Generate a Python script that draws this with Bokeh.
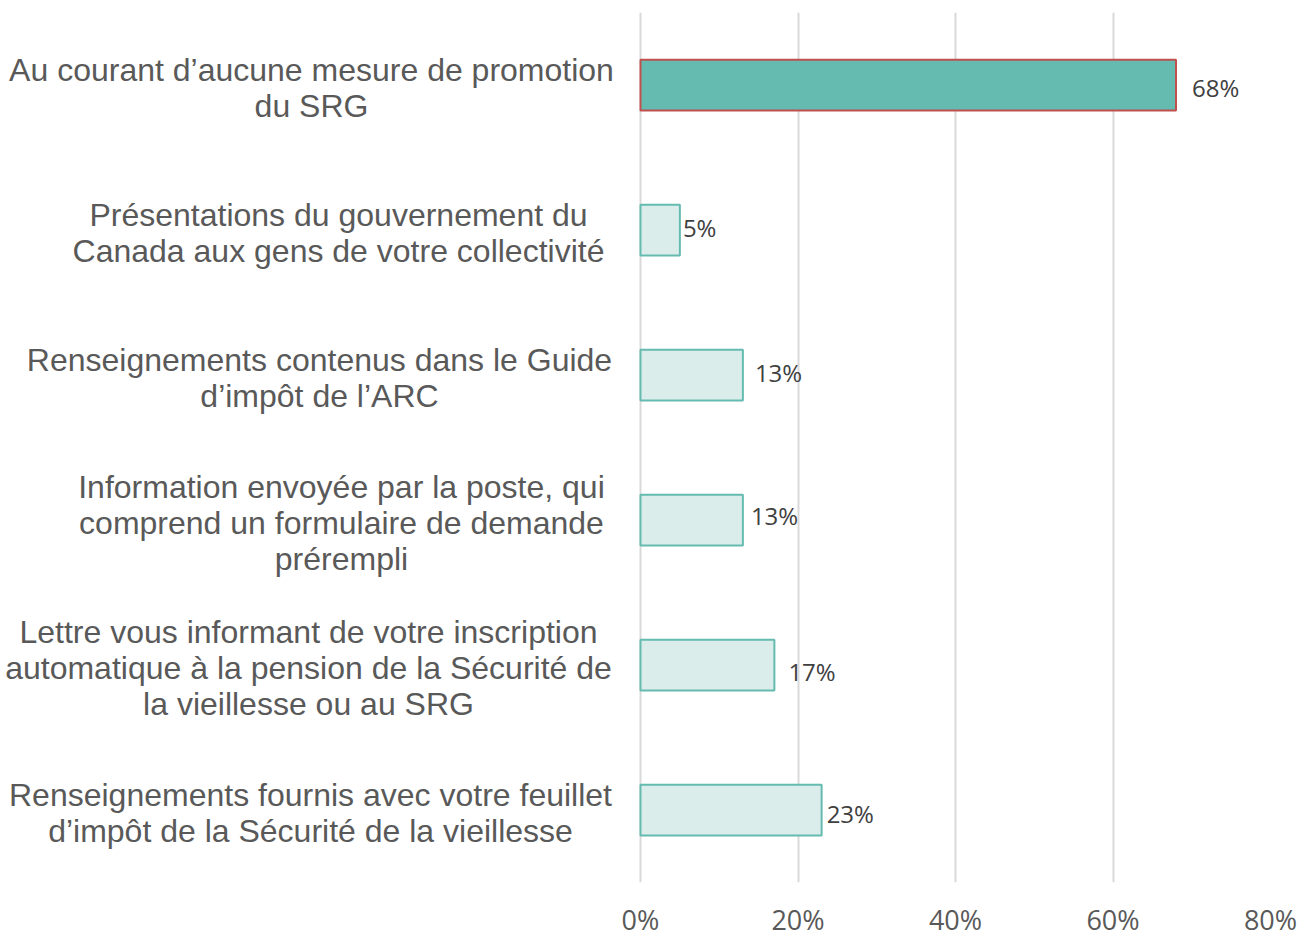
from bokeh.plotting import figure
from bokeh.models import ColumnDataSource, FixedTicker, NumeralTickFormatter
from bokeh.embed import file_html
from bokeh.resources import INLINE
from bokeh.core.properties import value

# ---- data ----
categories = [
    "Au courant d\u2019aucune mesure de promotion\ndu SRG",
    "Pr\u00e9sentations du gouvernement du\nCanada aux gens de votre collectivit\u00e9",
    "Renseignements contenus dans le Guide\nd\u2019imp\u00f4t de l\u2019ARC",
    "Information envoy\u00e9e par la poste, qui\ncomprend un formulaire de demande\npr\u00e9rempli",
    "Lettre vous informant de votre inscription\nautomatique \u00e0 la pension de la S\u00e9curit\u00e9 de\nla vieillesse ou au SRG",
    "Renseignements fournis avec votre feuillet\nd\u2019imp\u00f4t de la S\u00e9curit\u00e9 de la vieillesse",
]
values = [68, 5, 13, 13, 17, 23]
value_labels = ["68%", "5%", "13%", "13%", "17%", "23%"]
x_ticks = [0, 20, 40, 60, 80]
highlight_index = 0

# ---- style / layout ----
TEAL = "#66BBB0"
LIGHT = "#DAEDEA"
RED = "#C0504D"
fills = [TEAL if i == highlight_index else LIGHT for i in range(len(values))]
lines = [RED if i == highlight_index else TEAL for i in range(len(values))]
label_dx = [16, 3, 12, 8, 14, 5]
label_dy = [2, -3, -3, -5, 6, 3]
# horizontal centres (px from left of page) of the category text blocks
cat_centers_px = [311, 338, 319, 341, 308, 310]

LABEL_AREA = 640   # px left of the zero line reserved for category text
PLOT_W = 630       # px between 0% and 80%
FRAME_TOP = 12
FRAME_H = 870
X_MAX = 80
px_per_unit = PLOT_W / X_MAX
x_start = -LABEL_AREA / px_per_unit

p = figure(
    y_range=list(reversed(categories)),
    x_range=(x_start, X_MAX),
    frame_width=LABEL_AREA + PLOT_W, frame_height=FRAME_H,
    min_border_left=0, min_border_top=FRAME_TOP,
    min_border_right=30, min_border_bottom=52,
    output_backend="svg", toolbar_location=None,
)
p.outline_line_color = None
p.background_fill_color = "white"
p.border_fill_color = "white"

src = ColumnDataSource(dict(y=categories, right=values, fill=fills, line=lines,
                            lab=value_labels, dx=label_dx, dy=label_dy))
p.hbar(y="y", left=0, right="right", height=0.35, source=src,
       fill_color="fill", line_color="line", line_width=2)

p.text(x="right", y="y", text="lab", x_offset="dx", y_offset="dy", source=src,
       text_font=value("Open Sans"), text_font_size="24px", text_color="#404040",
       text_baseline="middle", text_align="left")

# category text blocks (lines centred within each block)
cat_x = [(c - LABEL_AREA) / px_per_unit for c in cat_centers_px]
csrc = ColumnDataSource(dict(x=cat_x, y=categories, t=categories))
p.text(x="x", y="y", text="t", source=csrc, y_offset=3,
       text_font=value("Liberation Sans"), text_font_size="32px", text_color="#595959",
       text_align="center", text_baseline="middle", text_line_height=1.01)

# axes
p.yaxis.visible = False
p.ygrid.grid_line_color = None
p.xgrid.ticker = FixedTicker(ticks=x_ticks)
p.xgrid.grid_line_color = "#D9D9D9"
p.xgrid.grid_line_width = 2
xa = p.xaxis[0]
xa.ticker = FixedTicker(ticks=x_ticks)
xa.formatter = NumeralTickFormatter(format="0")
xa.major_label_overrides = {t: f"{t}%" for t in x_ticks}
xa.axis_line_color = None
xa.major_tick_line_color = None
xa.minor_tick_line_color = None
xa.major_label_standoff = 12
xa.major_label_text_font = "Open Sans"
xa.major_label_text_font_size = "27px"
xa.major_label_text_color = "#595959"

open("out.html", "w").write(file_html(p, INLINE))
